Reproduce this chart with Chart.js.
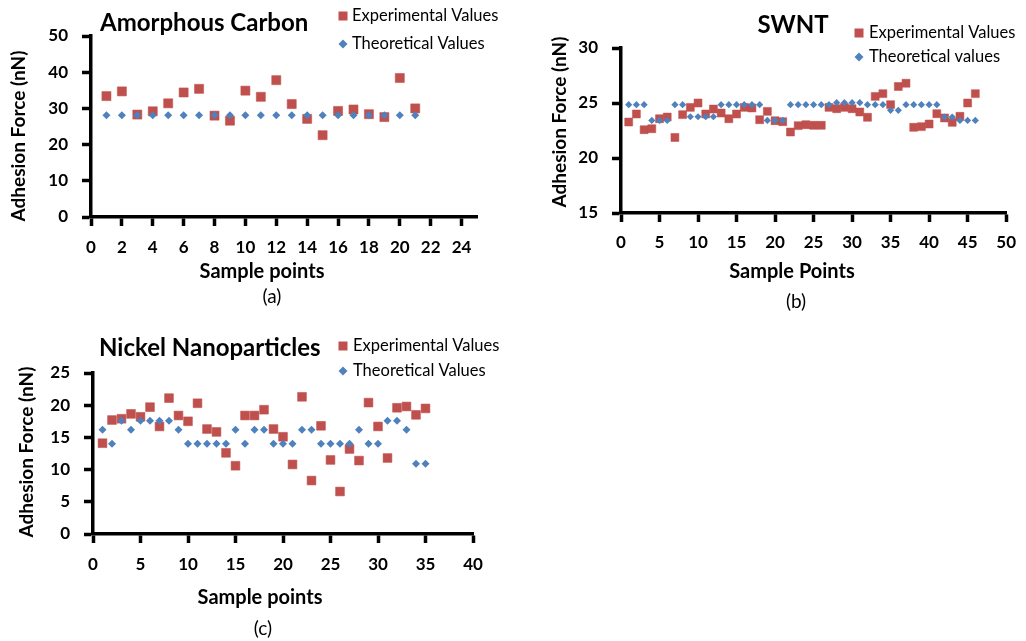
<!DOCTYPE html>
<html>
<head>
<meta charset="utf-8">
<title>Adhesion force charts</title>
<script src="https://cdn.jsdelivr.net/npm/chart.js@4.4.0/dist/chart.umd.min.js"></script>
<style>
    html, body { margin: 0; padding: 0; background: #fff; overflow: hidden; }
    canvas { position: absolute; }
</style>
</head>
<body>
<canvas id="chartA" width="520" height="320" style="left:0;top:0"></canvas>
<canvas id="chartB" width="506" height="320" style="left:520px;top:0"></canvas>
<canvas id="chartC" width="520" height="321" style="left:0;top:320px"></canvas>
<script>
// (a) Amorphous Carbon
var samplesA = [1, 2, 3, 4, 5, 6, 7, 8, 9, 10, 11, 12, 13, 14, 15, 16, 17, 18, 19, 20, 21];
var expA = [33.4, 34.7, 28.3, 29.2, 31.4, 34.4, 35.4, 28.0, 26.6, 34.9, 33.2, 37.8, 31.2, 27.1, 22.6, 29.3, 29.7, 28.4, 27.6, 38.4, 30.0];
var theoA = [28.1, 28.1, 28.1, 28.1, 28.1, 28.1, 28.1, 28.1, 28.1, 28.1, 28.1, 28.1, 28.1, 28.1, 28.1, 28.1, 28.1, 28.1, 28.1, 28.1, 28.1];
var xTicksA = [0, 2, 4, 6, 8, 10, 12, 14, 16, 18, 20, 22, 24];
var yTicksA = [0, 10, 20, 30, 40, 50];

// (b) SWNT
var samplesB = [1, 2, 3, 4, 5, 6, 7, 8, 9, 10, 11, 12, 13, 14, 15, 16, 17, 18, 19, 20, 21, 22, 23,
    24, 25, 26, 27, 28, 29, 30, 31, 32, 33, 34, 35, 36, 37, 38, 39, 40, 41, 42, 43, 44, 45, 46];
var expB = [23.27, 24.0, 22.57, 22.66, 23.57, 23.72, 21.87, 23.94, 24.6, 25.0,
    24.0, 24.45, 24.09, 23.57, 24.0, 24.6, 24.55, 23.48, 24.24, 23.39,
    23.3, 22.36, 22.94, 23.03, 22.97, 22.97, 24.6, 24.48, 24.6, 24.48,
    24.18, 23.7, 25.6, 25.85, 24.85, 26.5, 26.8, 22.79, 22.85, 23.09,
    24.03, 23.64, 23.24, 23.79, 25.0, 25.85];
var theoB = [24.85, 24.85, 24.85, 23.42, 23.42, 23.42, 24.85, 24.85, 23.75, 23.75,
    23.75, 23.75, 24.85, 24.85, 24.85, 24.85, 24.85, 24.85, 23.42, 23.42,
    23.42, 24.85, 24.85, 24.85, 24.85, 24.85, 24.85, 25.03, 25.03, 25.03,
    25.03, 24.85, 24.85, 24.85, 24.33, 24.33, 24.85, 24.85, 24.85, 24.85,
    24.85, 23.72, 23.72, 23.42, 23.42, 23.42];
var xTicksB = [0, 5, 10, 15, 20, 25, 30, 35, 40, 45, 50];
var yTicksB = [15, 20, 25, 30];

// (c) Nickel Nanoparticles
var samplesC = [1, 2, 3, 4, 5, 6, 7, 8, 9, 10, 11, 12, 13, 14, 15, 16, 17, 18, 19, 20,
    21, 22, 23, 24, 25, 26, 27, 28, 29, 30, 31, 32, 33, 34, 35];
var expC = [14.1, 17.7, 17.9, 18.65, 18.2, 19.7, 16.7, 21.1, 18.4, 17.5,
    20.3, 16.3, 15.85, 12.6, 10.6, 18.4, 18.4, 19.3, 16.3, 15.1,
    10.8, 21.3, 8.3, 16.8, 11.5, 6.6, 13.2, 11.4, 20.4, 16.7,
    11.8, 19.6, 19.8, 18.5, 19.5];
var theoC = [16.2, 14.0, 17.6, 16.2, 17.6, 17.6, 17.6, 17.6, 16.2, 14.0,
    14.0, 14.0, 14.0, 14.0, 16.2, 14.0, 16.2, 16.2, 14.0, 14.0,
    14.0, 16.2, 16.2, 14.0, 14.0, 14.0, 14.0, 16.2, 14.0, 14.0,
    17.6, 17.6, 16.2, 10.9, 10.9];
var xTicksC = [0, 5, 10, 15, 20, 25, 30, 35, 40];
var yTicksC = [0, 5, 10, 15, 20, 25];

var RED = '#C0504D';
var BLUE = '#4F81BD';
var FONT = 'Lato, Calibri, "Open Sans", sans-serif';

Chart.defaults.font.family = FONT;
Chart.defaults.color = '#000';

function pairs(xs, ys) {
    return xs.map(function (x, i) { return { x: x, y: ys[i] }; });
}

// draws chart title, legend, axis titles and caption at fixed spots
var overlayText = {
    id: 'overlayText',
    afterDraw: function (chart, args, opts) {
        var ctx = chart.ctx;
        ctx.save();
        ctx.fillStyle = '#000';
        ctx.textBaseline = 'middle';

        ctx.font = 'bold 24px ' + FONT;
        ctx.textAlign = opts.title.align;
        ctx.fillText(opts.title.text, opts.title.x, opts.title.y);

        ctx.font = 'bold 20px ' + FONT;
        ctx.textAlign = 'center';
        ctx.fillText(opts.xTitle.text, opts.xTitle.x, opts.xTitle.y);

        ctx.save();
        ctx.font = 'bold 19px ' + FONT;
        ctx.translate(opts.yTitle.x, opts.yTitle.y);
        ctx.rotate(-Math.PI / 2);
        ctx.fillText(opts.yTitle.text, 0, 0);
        ctx.restore();

        ctx.font = '19px ' + FONT;
        ctx.fillText(opts.caption.text, opts.caption.x, opts.caption.y);

        // legend
        ctx.font = '16.5px ' + FONT;
        ctx.textAlign = 'left';
        chart.data.datasets.forEach(function (ds, i) {
            var y = opts.legend.y[i];
            var mx = opts.legend.x;
            ctx.fillStyle = ds.backgroundColor;
            if (ds.pointStyle === 'rect') {
                ctx.fillRect(mx - 4.5, y - 4.5, 9, 9);
            } else {
                ctx.beginPath();
                ctx.moveTo(mx, y - 4.5);
                ctx.lineTo(mx + 4.5, y);
                ctx.lineTo(mx, y + 4.5);
                ctx.lineTo(mx - 4.5, y);
                ctx.closePath();
                ctx.fill();
            }
            ctx.fillStyle = '#000';
            ctx.fillText(ds.label, opts.legend.textX, y);
        });
        ctx.restore();
    }
};

function axis(min, max, ticks, size, tickPad) {
    return {
        type: 'linear',
        min: min,
        max: max,
        afterBuildTicks: function (scale) {
            scale.ticks = ticks.map(function (v) { return { value: v }; });
        },
        afterFit: function (scale) {
            if (scale.isHorizontal()) {
                scale.height = size;
            } else {
                scale.width = size;
            }
        },
        border: { display: true, color: '#000', width: 3.5 },
        grid: {
            drawOnChartArea: false,
            drawTicks: true,
            tickLength: 9,
            tickWidth: 3.5,
            tickColor: '#000'
        },
        ticks: {
            color: '#000',
            padding: tickPad,
            font: { size: 17, weight: 'bold' }
        }
    };
}

function makeChart(id, d) {
    return new Chart(document.getElementById(id), {
        type: 'scatter',
        data: {
            datasets: [{
                label: 'Experimental Values',
                data: pairs(d.samples, d.exp),
                pointStyle: 'rect',
                backgroundColor: RED,
                borderColor: 'rgba(192, 80, 77, 0.55)',
                borderWidth: 1,
                pointRadius: d.sq,
                order: 1
            }, {
                label: d.theoLabel,
                data: pairs(d.samples, d.theo),
                pointStyle: 'rectRot',
                backgroundColor: BLUE,
                borderColor: BLUE,
                borderWidth: 0,
                pointRadius: d.dia,
                order: 0
            }]
        },
        options: {
            responsive: false,
            animation: false,
            events: [],
            layout: { padding: d.padding },
            scales: {
                x: axis(d.xMin, d.xMax, d.xTicks, d.xSize, d.xPad),
                y: axis(d.yMin, d.yMax, d.yTicks, d.ySize, 14)
            },
            plugins: {
                legend: { display: false },
                tooltip: { enabled: false },
                overlayText: d.text
            }
        },
        plugins: [overlayText]
    });
}

makeChart('chartA', {
    samples: samplesA, exp: expA, theo: theoA, theoLabel: 'Theoretical Values',
    sq: 6.4, dia: 4,
    xMin: 0, xMax: 25, xTicks: xTicksA, xSize: 103, xPad: 11,
    yMin: 0, yMax: 50, yTicks: yTicksA, ySize: 91,
    padding: { left: 0, top: 36, right: 43, bottom: 0 },
    text: {
        title: { text: 'Amorphous Carbon', x: 100, y: 23, align: 'left' },
        xTitle: { text: 'Sample points', x: 262, y: 272 },
        yTitle: { text: 'Adhesion Force (nN)', x: 19, y: 136 },
        caption: { text: '(a)', x: 272, y: 297 },
        legend: { x: 343, textX: 352, y: [16, 44] }
    }
});

makeChart('chartB', {
    samples: samplesB, exp: expB, theo: theoB, theoLabel: 'Theoretical values',
    sq: 5.6, dia: 3.6,
    xMin: 0, xMax: 50, xTicks: xTicksB, xSize: 107, xPad: 10,
    yMin: 15, yMax: 30, yTicks: yTicksB, ySize: 101,
    padding: { left: 0, top: 48, right: 14, bottom: 0 },
    text: {
        title: { text: 'SWNT', x: 273, y: 25, align: 'center' },
        xTitle: { text: 'Sample Points', x: 272, y: 272 },
        yTitle: { text: 'Adhesion Force (nN)', x: 40, y: 122 },
        caption: { text: '(b)', x: 276, y: 302 },
        legend: { x: 339, textX: 349, y: [33, 57] }
    }
});

makeChart('chartC', {
    samples: samplesC, exp: expC, theo: theoC, theoLabel: 'Theoretical Values',
    sq: 6.2, dia: 4,
    xMin: 0, xMax: 40, xTicks: xTicksC, xSize: 107, xPad: 11,
    yMin: 0, yMax: 25, yTicks: yTicksC, ySize: 93,
    padding: { left: 0, top: 53, right: 47, bottom: 0 },
    text: {
        title: { text: 'Nickel Nanoparticles', x: 99, y: 28, align: 'left' },
        xTitle: { text: 'Sample points', x: 260, y: 278 },
        yTitle: { text: 'Adhesion Force (nN)', x: 27, y: 132 },
        caption: { text: '(c)', x: 263, y: 309 },
        legend: { x: 343, textX: 353, y: [26, 51] }
    }
});
</script>
</body>
</html>
